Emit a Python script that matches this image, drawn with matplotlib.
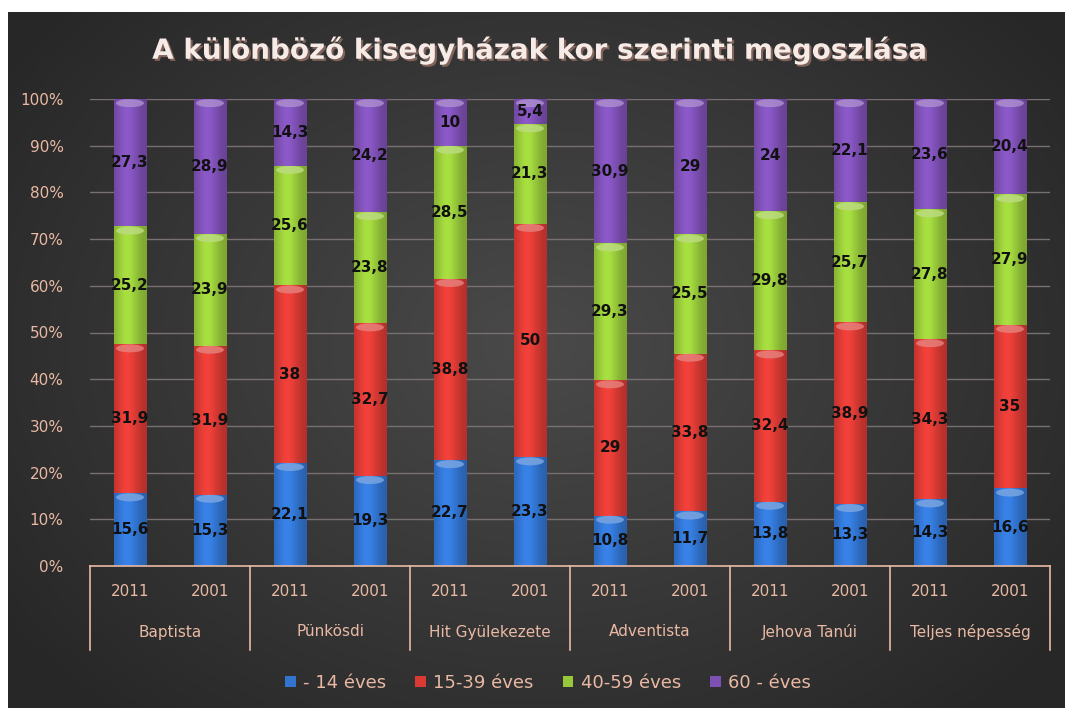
import numpy as np
import matplotlib
matplotlib.use("Agg")
import matplotlib.pyplot as plt
from matplotlib.patches import Patch, Ellipse, Rectangle
from matplotlib import patheffects as pe
import matplotlib.colors as mcolors

# ---------------- data ----------------
groups = ["Baptista", "Pünkösdi", "Hit Gyülekezete", "Adventista", "Jehova Tanúi", "Teljes népesség"]
years = ["2011", "2001"]
series_names = ["- 14 éves", "15-39 éves", "40-59 éves", "60 - éves"]
age_0_14 = [15.6, 15.3, 22.1, 19.3, 22.7, 23.3, 10.8, 11.7, 13.8, 13.3, 14.3, 16.6]
age_15_39 = [31.9, 31.9, 38, 32.7, 38.8, 50, 29, 33.8, 32.4, 38.9, 34.3, 35]
age_40_59 = [25.2, 23.9, 25.6, 23.8, 28.5, 21.3, 29.3, 25.5, 29.8, 25.7, 27.8, 27.9]
age_60 = [27.3, 28.9, 14.3, 24.2, 10, 5.4, 30.9, 29, 24, 22.1, 23.6, 20.4]
title = "A különböző kisegyházak kor szerinti megoszlása"

series = [age_0_14, age_15_39, age_40_59, age_60]
colors = ["#3274d0", "#d93a34", "#97c83a", "#7d50b3"]
label_col = "#e9b9a4"

W, H = 1065, 708
fig = plt.figure(figsize=(W / 100, H / 100), dpi=100)
fig.patch.set_facecolor("white")

# background panel with radial gradient
bg = fig.add_axes([0, 0, 1, 1], zorder=-10)
bg.set_xlim(0, W)
bg.set_ylim(H, 0)
bg.axis("off")
yy, xx = np.mgrid[0:200, 0:300]
d = np.sqrt(((xx - 150) / 150) ** 2 + ((yy - 95) / 115) ** 2)
val = np.clip(0.29 - 0.11 * d, 0.155, 0.29)
bgimg = np.dstack([val, val, val])
bg.imshow(bgimg, extent=[8, 1065, 708, 12], aspect="auto", interpolation="bicubic")

# main axes
left, right = 90 / W, 1050 / W
bottom, top = 1 - 566 / H, 1 - 99 / H
ax = fig.add_axes([left, bottom, right - left, top - bottom])
ax.set_facecolor("none")

n = len(age_0_14)
x = np.arange(n)
tot = np.sum(series, axis=0)
pct = [np.array(s) / tot * 100 for s in series]

bw = 0.41
base = np.zeros(n)
for si, (p, raw, c) in enumerate(zip(pct, series, colors)):
    bars = ax.bar(x, p, bw, bottom=base, color=c, edgecolor="none", zorder=3)
    rgb = np.array(mcolors.to_rgb(c))
    for i, b in enumerate(bars):
        # cylinder shading
        t = np.linspace(0, 1, 64)
        shade = 0.82 + 0.30 * np.exp(-((t - 0.4) / 0.35) ** 2)
        img = np.clip(rgb[None, :] * shade[:, None], 0, 1)[None, :, :]
        im = ax.imshow(img, extent=[x[i] - bw / 2, x[i] + bw / 2, base[i], base[i] + p[i]],
                       aspect="auto", zorder=3.5, interpolation="bilinear")
        im.set_clip_path(b)
        # top highlight
        hl = np.clip(rgb + 0.35 * (1 - rgb), 0, 1)
        e = Ellipse((x[i], base[i] + p[i] - 0.9), bw * 0.85, 1.7, facecolor=hl,
                    edgecolor="none", alpha=0.85, zorder=4)
        ax.add_patch(e)
        txt = ("%g" % raw[i]).replace(".", ",")
        ax.text(x[i], base[i] + p[i] / 2, txt, ha="center", va="center",
                fontsize=11, fontweight="bold", color="#111111", zorder=6,
                family="DejaVu Sans")
    base = base + p

ax.set_xlim(-0.5, n - 0.5)
ax.set_ylim(0, 100)
ax.set_yticks(np.arange(0, 101, 10))
ax.set_yticklabels(["%d%%" % v for v in range(0, 101, 10)])
ax.tick_params(axis="y", length=0, labelsize=11, labelcolor=label_col, pad=19)
ax.set_xticks([])
ax.grid(axis="y", color="#787070", linewidth=1, zorder=1)
ax.set_axisbelow(True)
for s in ["top", "right", "left"]:
    ax.spines[s].set_visible(False)
ax.spines["bottom"].set_color(label_col)
ax.spines["bottom"].set_linewidth(1.2)
ax.spines["bottom"].set_zorder(5)

ah = 467.0
def fy(ypx):
    return (566 - ypx) / ah

trans = ax.get_xaxis_transform()
for i in range(n):
    ax.text(x[i], fy(592), years[i % 2], transform=trans, ha="center", va="center",
            fontsize=11, color=label_col)
for g, name in enumerate(groups):
    ax.text(2 * g + 0.5, fy(632), name, transform=trans, ha="center", va="center",
            fontsize=11, color=label_col)
for g in range(len(groups) + 1):
    ax.plot([2 * g - 0.5, 2 * g - 0.5], [0, fy(650)], transform=trans, color=label_col,
            linewidth=1.2, clip_on=False, zorder=5)

fig.text(540 / W, 1 - 50 / H, title, ha="center", va="center", fontsize=20,
         fontweight="bold", color="#f6ebe6", family="DejaVu Sans",
         path_effects=[pe.withSimplePatchShadow(offset=(1.5, -1.5), shadow_rgbFace="#8a6a60", alpha=0.9)])

handles = [Patch(facecolor=c, edgecolor="none") for c in colors]
leg = fig.legend(handles, series_names, loc="center", bbox_to_anchor=(548 / W, 1 - 683 / H),
                 ncol=4, frameon=False, fontsize=13, handlelength=0.6, handleheight=0.6,
                 handletextpad=0.4, columnspacing=1.6)
for t in leg.get_texts():
    t.set_color(label_col)

fig.savefig("out.png", dpi=100, facecolor=fig.get_facecolor())
